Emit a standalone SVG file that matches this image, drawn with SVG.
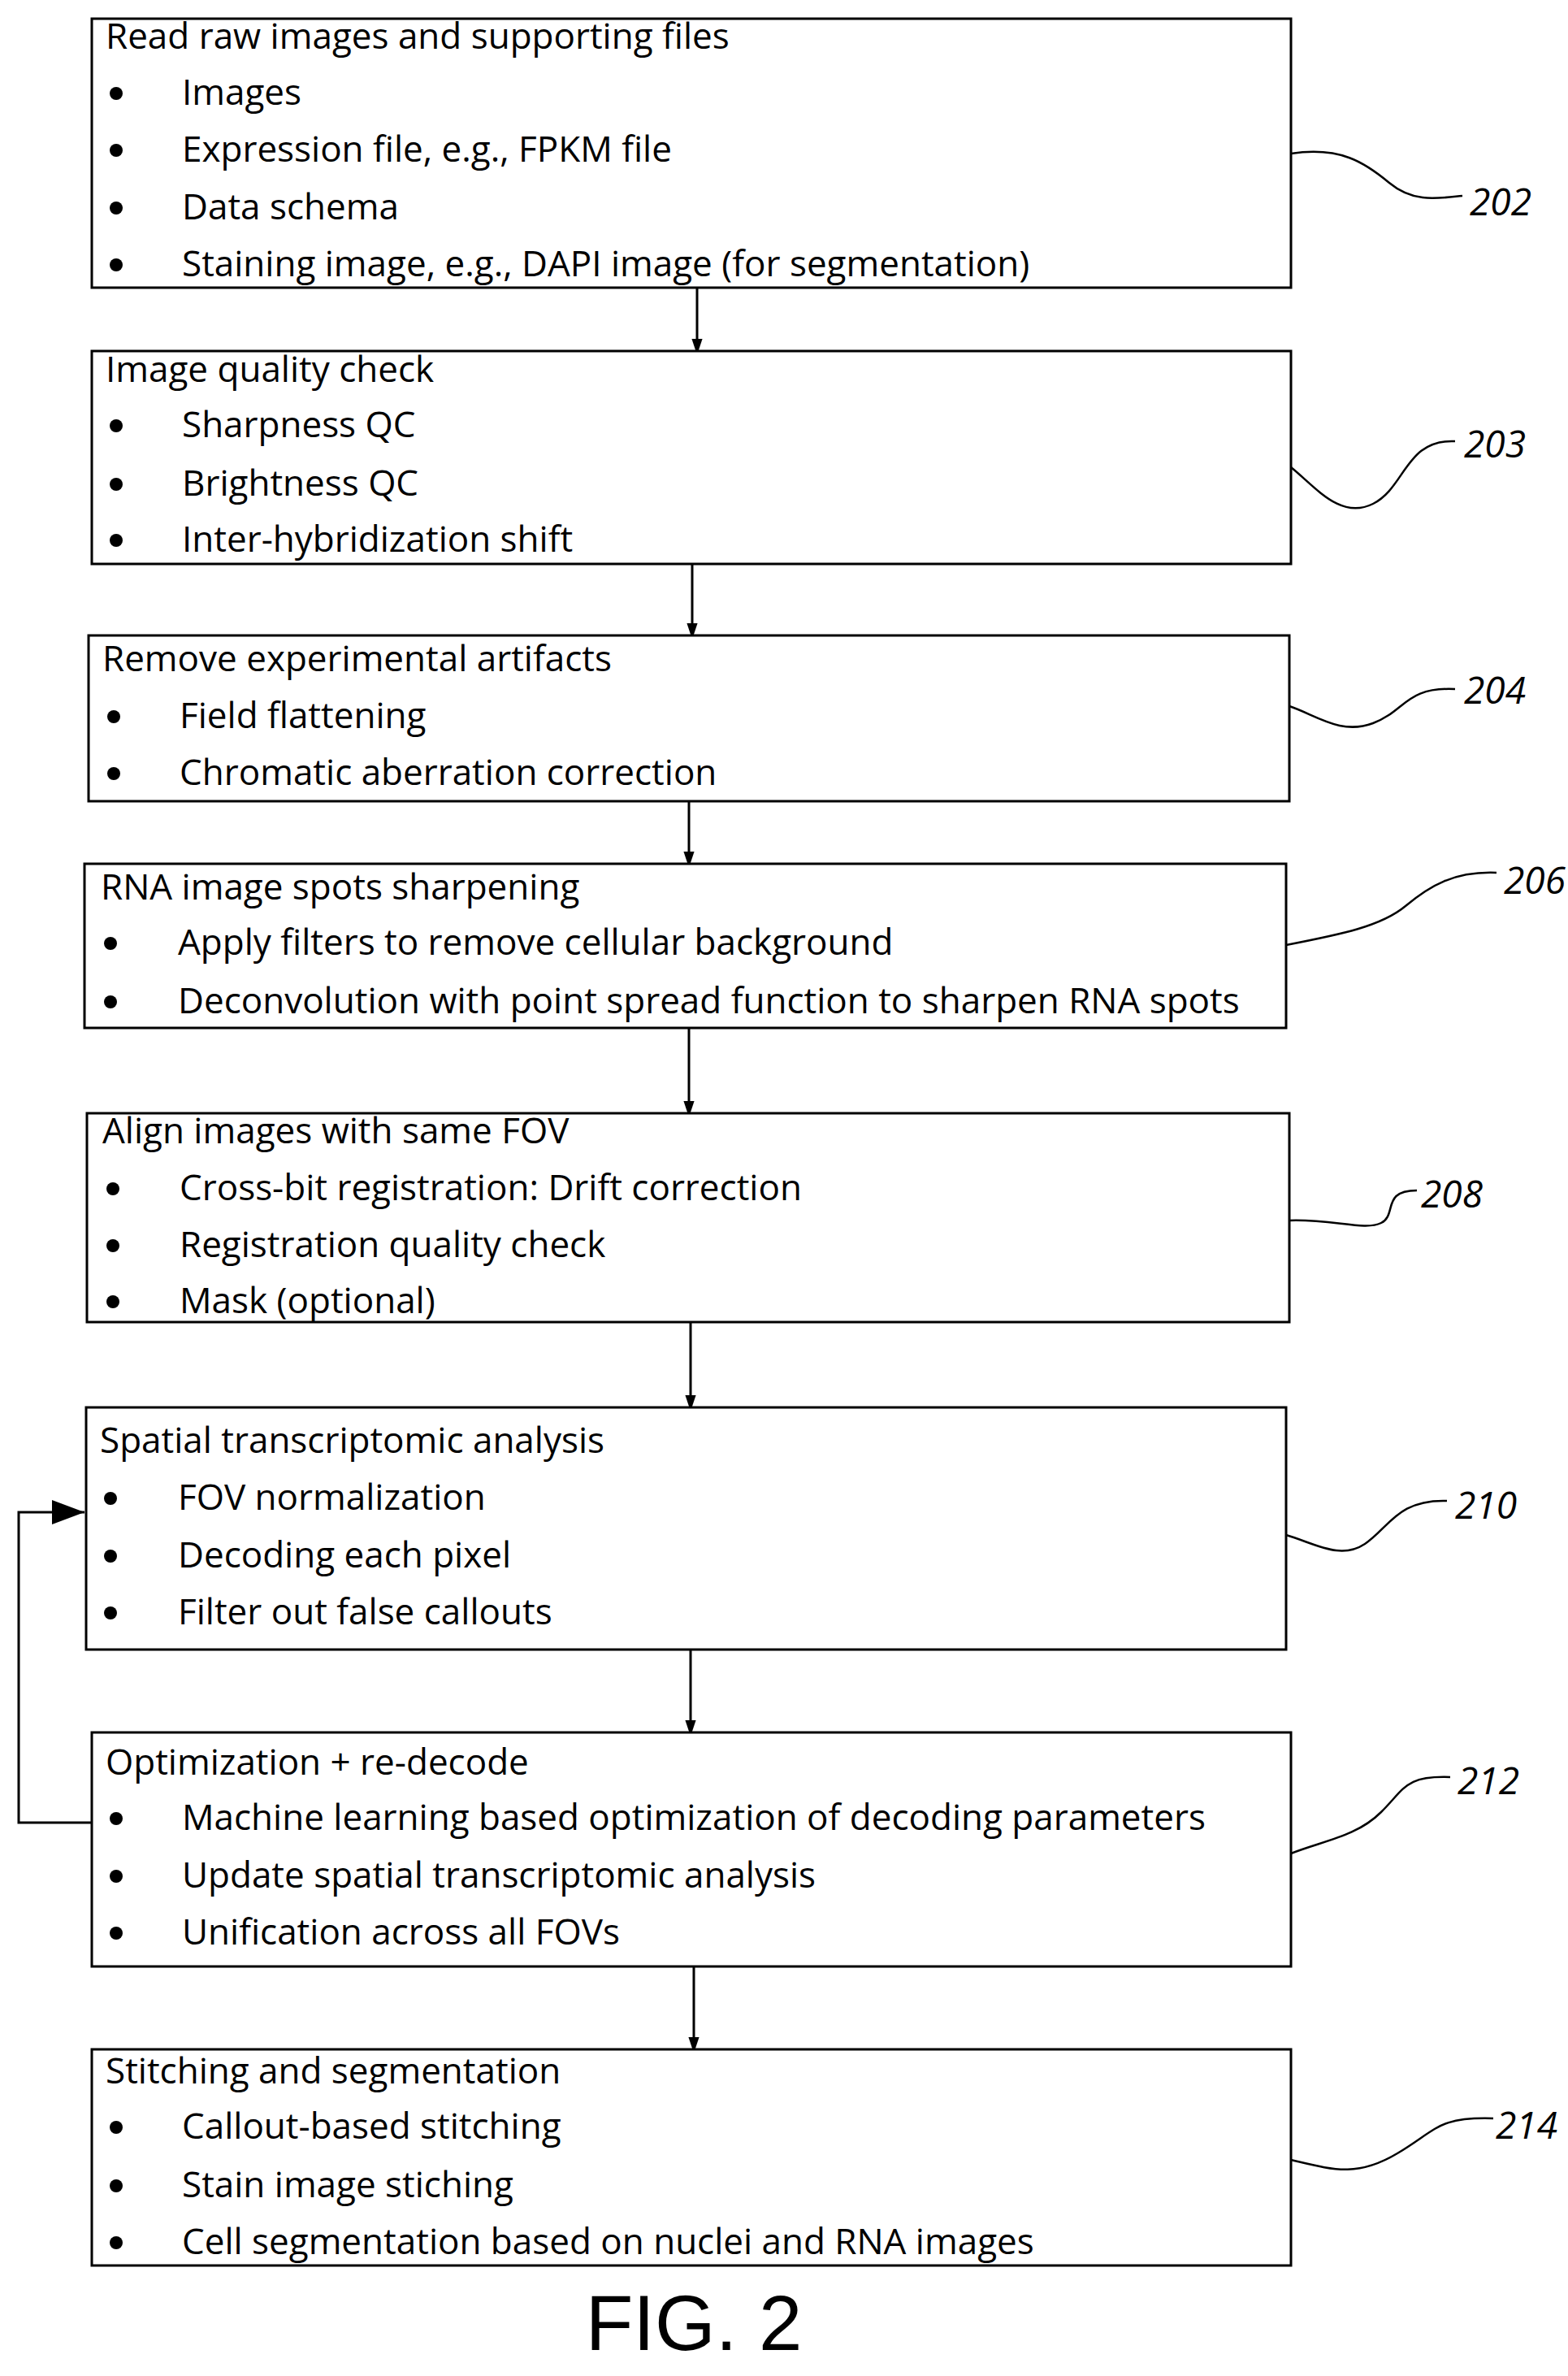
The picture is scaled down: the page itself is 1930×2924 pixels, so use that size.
<svg xmlns="http://www.w3.org/2000/svg" width="1930" height="2924" viewBox="0 0 1930 2924">
<style>
.box{fill:#fff;stroke:#000;stroke-width:3}
text{font-family:"Open Sans","Liberation Sans",sans-serif;font-size:44px;fill:#000}
.ref{font-style:italic;font-size:46px}
.fig{font-family:"Liberation Sans",Arial,sans-serif;font-size:96px}
.ln{fill:none;stroke:#000;stroke-width:3}
.sq{fill:none;stroke:#000;stroke-width:2.5}
</style>
<defs>
<marker id="a" markerWidth="20" markerHeight="30" refX="20" refY="10" orient="auto" markerUnits="userSpaceOnUse" viewBox="0 0 30 20"><path d="M0,0 L30,10 L0,20 z" fill="#000"/></marker>
<marker id="b" markerWidth="40" markerHeight="30" refX="40" refY="15" orient="auto" markerUnits="userSpaceOnUse" viewBox="0 0 40 30"><path d="M0,0 L40,15 L0,30 z" fill="#000"/></marker></defs>
<g id="connectors">
<path class="ln" d="M858 354 V430" marker-end="url(#a)"/>
<path class="ln" d="M852 694 V780" marker-end="url(#a)"/>
<path class="ln" d="M848 986 V1061" marker-end="url(#a)"/>
<path class="ln" d="M848 1265 V1368" marker-end="url(#a)"/>
<path class="ln" d="M850 1627 V1730" marker-end="url(#a)"/>
<path class="ln" d="M850 2030 V2130" marker-end="url(#a)"/>
<path class="ln" d="M854 2420 V2520" marker-end="url(#a)"/>
<path class="ln" d="M113 2243 H23 V1861 H104" marker-end="url(#b)"/>
<path class="sq" d="M1589 189 C1650 180 1680 200 1710 225 S1770 244 1800 241"/>
<path class="sq" d="M1589 575 C1620 600 1650 640 1690 620 S1730 540 1791 543"/>
<path class="sq" d="M1587 869 C1620 880 1650 905 1690 890 S1730 845 1791 848"/>
<path class="sq" d="M1583 1163 C1650 1150 1700 1140 1730 1115 S1790 1072 1842 1074"/>
<path class="sq" d="M1587 1502 C1640 1500 1680 1515 1700 1505 S1700 1465 1744 1465"/>
<path class="sq" d="M1583 1889 C1620 1900 1650 1920 1680 1900 S1720 1845 1781 1847"/>
<path class="sq" d="M1589 2281 C1630 2265 1670 2260 1700 2230 S1730 2185 1785 2187"/>
<path class="sq" d="M1589 2658 C1640 2670 1670 2680 1720 2650 S1770 2605 1838 2607"/>
</g>
<g id="n202"><rect class="box" x="113" y="23" width="1476" height="331"/>
<text x="130" y="60">Read raw images and supporting files</text>
<text x="224" y="129">Images</text><text x="224" y="199">Expression file, e.g., FPKM file</text><text x="224" y="270">Data schema</text><text x="224" y="340">Staining image, e.g., DAPI image (for segmentation)</text>
<circle cx="143" cy="115" r="8"/><circle cx="143" cy="185" r="8"/><circle cx="143" cy="256" r="8"/><circle cx="143" cy="326" r="8"/>
<text class="ref" x="1847" y="265" text-anchor="middle">202</text></g>
<g id="n203"><rect class="box" x="113" y="432" width="1476" height="262"/>
<text x="130" y="470">Image quality check</text>
<text x="224" y="538">Sharpness QC</text><text x="224" y="610">Brightness QC</text><text x="224" y="679">Inter-hybridization shift</text>
<circle cx="143" cy="524" r="8"/><circle cx="143" cy="596" r="8"/><circle cx="143" cy="665" r="8"/>
<text class="ref" x="1840" y="563" text-anchor="middle">203</text></g>
<g id="n204"><rect class="box" x="109" y="782" width="1478" height="204"/>
<text x="126" y="826">Remove experimental artifacts</text>
<text x="221" y="896">Field flattening</text><text x="221" y="966">Chromatic aberration correction</text>
<circle cx="140" cy="882" r="8"/><circle cx="140" cy="952" r="8"/>
<text class="ref" x="1840" y="866" text-anchor="middle">204</text></g>
<g id="n206"><rect class="box" x="104" y="1063" width="1479" height="202"/>
<text x="124" y="1107">RNA image spots sharpening</text>
<text x="219" y="1175">Apply filters to remove cellular background</text><text x="219" y="1247">Deconvolution with point spread function to sharpen RNA spots</text>
<circle cx="136" cy="1161" r="8"/><circle cx="136" cy="1233" r="8"/>
<text class="ref" x="1889" y="1100" text-anchor="middle">206</text></g>
<g id="n208"><rect class="box" x="107" y="1370" width="1480" height="257"/>
<text x="126" y="1407">Align images with same FOV</text>
<text x="221" y="1477">Cross-bit registration: Drift correction</text><text x="221" y="1547">Registration quality check</text><text x="221" y="1616">Mask (optional)</text>
<circle cx="139" cy="1463" r="8"/><circle cx="139" cy="1533" r="8"/><circle cx="139" cy="1602" r="8"/>
<text class="ref" x="1787" y="1486" text-anchor="middle">208</text></g>
<g id="n210"><rect class="box" x="106" y="1732" width="1477" height="298"/>
<text x="123" y="1788">Spatial transcriptomic analysis</text>
<text x="219" y="1858">FOV normalization</text><text x="219" y="1929">Decoding each pixel</text><text x="219" y="1999">Filter out false callouts</text>
<circle cx="136" cy="1844" r="8"/><circle cx="136" cy="1915" r="8"/><circle cx="136" cy="1985" r="8"/>
<text class="ref" x="1829" y="1869" text-anchor="middle">210</text></g>
<g id="n212"><rect class="box" x="113" y="2132" width="1476" height="288"/>
<text x="130" y="2184">Optimization + re-decode</text>
<text x="224" y="2252">Machine learning based optimization of decoding parameters</text><text x="224" y="2323">Update spatial transcriptomic analysis</text><text x="224" y="2393">Unification across all FOVs</text>
<circle cx="143" cy="2238" r="8"/><circle cx="143" cy="2309" r="8"/><circle cx="143" cy="2379" r="8"/>
<text class="ref" x="1832" y="2208" text-anchor="middle">212</text></g>
<g id="n214"><rect class="box" x="113" y="2522" width="1476" height="266"/>
<text x="130" y="2564">Stitching and segmentation</text>
<text x="224" y="2632">Callout-based stitching</text><text x="224" y="2704">Stain image stiching</text><text x="224" y="2774">Cell segmentation based on nuclei and RNA images</text>
<circle cx="143" cy="2618" r="8"/><circle cx="143" cy="2690" r="8"/><circle cx="143" cy="2760" r="8"/>
<text class="ref" x="1879" y="2632" text-anchor="middle">214</text></g>
<text class="fig" x="854" y="2892" text-anchor="middle">FIG. 2</text>
</svg>
